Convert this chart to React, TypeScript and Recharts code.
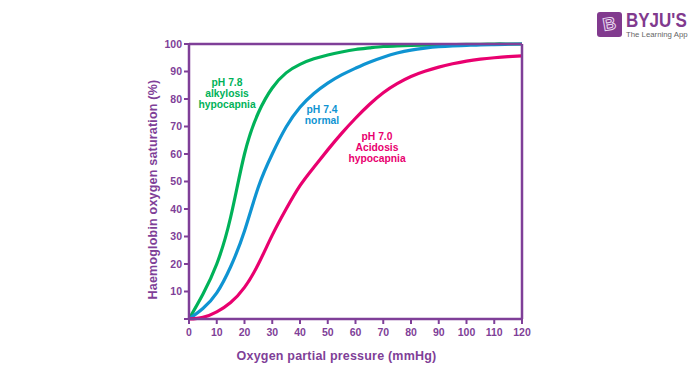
import React from 'react';
import { LineChart, Line, XAxis, YAxis, ReferenceLine, Label } from 'recharts';

const PURPLE = '#7f3f98';

const xTicks = [0, 10, 20, 30, 40, 50, 60, 70, 80, 90, 100, 110, 120];
const yTicks = [0, 10, 20, 30, 40, 50, 60, 70, 80, 90, 100];

const pressure = [0, 5, 10, 15, 20, 25, 30, 35, 40, 45, 50, 55, 60, 65, 70, 75, 80, 85, 90, 95, 100, 105, 110, 115, 120];
const alkalosis = [0, 9, 20, 37, 60, 75, 84, 89.5, 92.6, 94.6, 96, 97.1, 98, 98.6, 99.1, 99.3, 99.5, 99.6, 99.7, 99.8, 99.9, 99.9, 100, 100, 100];
const normal = [0, 3.8, 9.5, 19, 32, 48, 60, 69.8, 77, 82, 85.8, 88.8, 91.2, 93.4, 95.2, 96.7, 97.8, 98.5, 99, 99.3, 99.5, 99.7, 99.8, 99.9, 100];
const acidosis = [0, 0.6, 2.6, 6, 11.5, 20, 30.5, 40, 48.5, 55.2, 61.5, 67.5, 73, 78, 82.3, 85.6, 88.2, 90.1, 91.6, 92.8, 93.8, 94.5, 95, 95.4, 95.7];

const rows = pressure.map((p, i) => ({
  p,
  alkalosis: alkalosis[i],
  normal: normal[i],
  acidosis: acidosis[i],
}));

const tickStyle = { fill: PURPLE, fontSize: 10.5, fontWeight: 700, fontFamily: 'Liberation Sans' };
const titleStyle = { fill: PURPLE, fontSize: 12.5, fontWeight: 700, fontFamily: 'Liberation Sans', letterSpacing: 0.2 };

const CurveNote = ({ left, top, color, lines }: { left: number; top: number; color: string; lines: string[] }) => (
  <div
    style={{
      position: 'absolute',
      left,
      top,
      width: 90,
      textAlign: 'center',
      color,
      fontFamily: 'Liberation Sans',
      fontWeight: 700,
      fontSize: 10.3,
      lineHeight: '11px',
    }}
  >
    {lines.map((l) => (
      <div key={l}>{l}</div>
    ))}
  </div>
);

const Logo = () => (
  <div style={{ position: 'absolute', left: 597, top: 12, width: 100, height: 28, fontFamily: 'Liberation Sans' }}>
    <div
      style={{
        position: 'absolute',
        left: 0,
        top: 0,
        width: 25,
        height: 25,
        borderRadius: 3,
        background: '#813a8e',
        color: '#813a8e',
        WebkitTextStroke: '1px #e9d9ee',
        fontSize: 18,
        fontWeight: 700,
        lineHeight: '25px',
        textAlign: 'center',
        overflow: 'hidden',
      }}
    >
      <div style={{ transform: 'rotate(-10deg)' }}>B</div>
    </div>
    <div
      style={{
        position: 'absolute',
        left: 29,
        top: 0,
        color: '#813a8e',
        fontSize: 20,
        fontWeight: 700,
        lineHeight: '17px',
        height: 17,
        whiteSpace: 'nowrap',
        transform: 'scaleX(0.85)',
        transformOrigin: 'left center',
      }}
    >
      BYJU'S
    </div>
    <div style={{ position: 'absolute', left: 29, top: 19, color: '#666', fontSize: 7.8, lineHeight: '8px', whiteSpace: 'nowrap' }}>
      The Learning App
    </div>
  </div>
);

export default function App() {
  return (
    <div style={{ position: 'absolute', left: 0, top: 0, width: 700, height: 386, background: '#fff', overflow: 'hidden' }}>
      <LineChart width={700} height={386} data={rows} margin={{ top: 44, right: 178, bottom: 37, left: 129 }}>
        <XAxis
          dataKey="p"
          type="number"
          domain={[0, 120]}
          ticks={xTicks}
          interval={0}
          stroke={PURPLE}
          strokeWidth={2.5}
          height={30}
          tickSize={5}
          tickMargin={5}
          tick={tickStyle}
          tickLine={{ stroke: PURPLE, strokeWidth: 2 }}
        >
          <Label value="Oxygen partial pressure (mmHg)" position="bottom" offset={2} dx={-19} style={titleStyle} />
        </XAxis>
        <YAxis
          type="number"
          domain={[0, 100]}
          ticks={yTicks}
          interval={0}
          stroke={PURPLE}
          strokeWidth={2.5}
          width={60}
          tickSize={5}
          tick={tickStyle}
          tickLine={{ stroke: PURPLE, strokeWidth: 2 }}
          tickFormatter={(v: number) => (v === 0 ? '' : String(v))}
        >
          <Label
            value="Haemoglobin oxygen saturation (%)"
            angle={-90}
            position="insideLeft"
            offset={24}
            dy={8}
            textAnchor="middle"
            style={titleStyle}
          />
        </YAxis>
        <Line dataKey="alkalosis" type="natural" stroke="#00b259" strokeWidth={3.2} dot={false} isAnimationActive={false} />
        <Line dataKey="normal" type="natural" stroke="#0f94d2" strokeWidth={3.2} dot={false} isAnimationActive={false} />
        <Line dataKey="acidosis" type="natural" stroke="#e9006f" strokeWidth={3.2} dot={false} isAnimationActive={false} />
        <ReferenceLine y={100} stroke={PURPLE} strokeWidth={2.5} />
        <ReferenceLine x={120} stroke={PURPLE} strokeWidth={2.5} />
      </LineChart>
      <CurveNote left={182} top={77} color="#00b259" lines={['pH 7.8', 'alkylosis', 'hypocapnia']} />
      <CurveNote left={277} top={104} color="#0f94d2" lines={['pH 7.4', 'normal']} />
      <CurveNote left={332} top={131} color="#e9006f" lines={['pH 7.0', 'Acidosis', 'hypocapnia']} />
      <Logo />
    </div>
  );
}
